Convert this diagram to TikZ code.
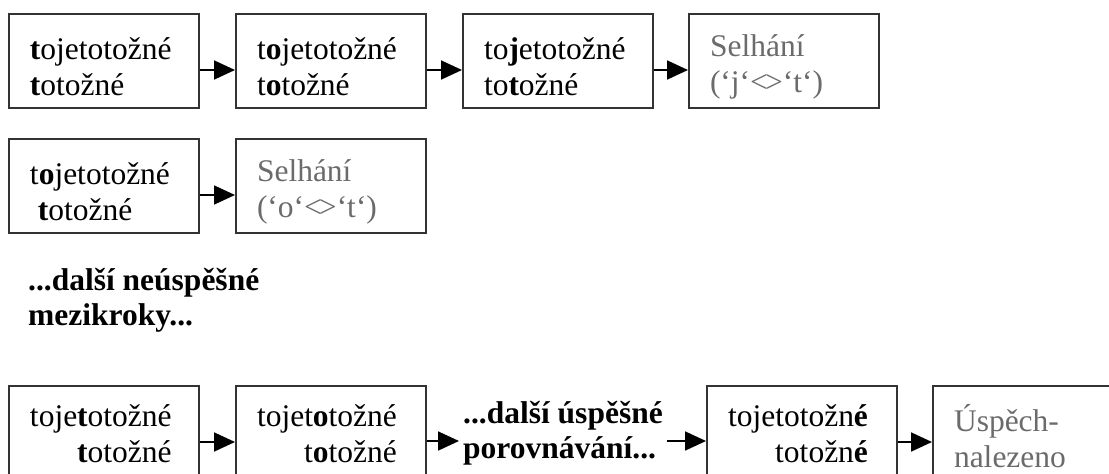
\documentclass[tikz,border=0pt]{standalone}
\usepackage{fontspec}
\setmainfont{Liberation Serif}
\usetikzlibrary{arrows.meta}
\definecolor{boxline}{gray}{0.2}
\definecolor{failgray}{gray}{0.42}
\newcommand{\neqsign}{<\kern-3pt>}
\begin{document}
\begin{tikzpicture}[x=1pt,y=-1pt,
  box/.style={draw=boxline, line width=2pt, minimum width=190pt, minimum height=94pt,
    text width=148pt, inner xsep=21pt, inner ysep=0pt, align=left, anchor=north west,
    font=\fontsize{31.5}{36}\selectfont, execute at begin node={\rule{0pt}{33pt}}},
  fail/.style={box, text=failgray},
  note/.style={font=\fontsize{31.5}{35}\selectfont\bfseries, align=left, anchor=north west,
    inner ysep=0pt, inner xsep=4pt},
  arr/.style={line width=1.8pt, draw=black, -{Triangle[length=21pt,width=19pt]}}]
\useasboundingbox (0,0) rectangle (1109,474);
\clip (0,0) rectangle (1109,474);
% row 1
\node[box] (r1a) at (8,13) {\textbf{t}ojetotožné\\\textbf{t}otožné};
\node[box] (r1b) at (235,13) {t\textbf{o}jetotožné\\t\textbf{o}tožné};
\node[box] (r1c) at (462,13) {to\textbf{j}etotožné\\to\textbf{t}ožné};
\node[fail] (r1d) at (688,13) {Selhání\\(‘j‘\neqsign‘t‘)};
\draw[arr] ([yshift=-9pt]r1a.east) -- ([yshift=-9pt]r1b.west);
\draw[arr] ([yshift=-9pt]r1b.east) -- ([yshift=-9pt]r1c.west);
\draw[arr] ([yshift=-9pt]r1c.east) -- ([yshift=-9pt]r1d.west);
% row 2
\node[box] (r2a) at (8,138) {t\textbf{o}jetotožné\\\hspace*{0.25em}\textbf{t}otožné};
\node[fail] (r2b) at (235,138) {Selhání\\(‘o‘\neqsign‘t‘)};
\draw[arr] ([yshift=-9pt]r2a.east) -- ([yshift=-9pt]r2b.west);
% note
\node[note] (more1) at (24,268) {...další neúspěšné\\mezikroky...};
% row 3
\node[box] (r3a) at (8,385) {\begin{tabular}[t]{@{}r@{}}toje\textbf{t}otožné\\\textbf{t}otožné\end{tabular}};
\node[box] (r3b) at (235,385) {\begin{tabular}[t]{@{}r@{}}tojet\textbf{o}tožné\\t\textbf{o}tožné\end{tabular}};
\node[note] (m) at (459,401) {...další úspěšné\\porovnávání...};
\node[box] (r3d) at (706,385) {\begin{tabular}[t]{@{}r@{}}tojetotožn\textbf{é}\\totožn\textbf{é}\end{tabular}};
\node[fail] (r3e) at (932,385) {Úspěch-\\nalezeno};
\draw[arr] ([yshift=-9pt]r3a.east) -- ([yshift=-9pt]r3b.west);
\coordinate (p3) at ([yshift=-8pt]r3b.east);
\draw[arr] (p3) -- (p3 -| m.west);
\draw[arr] (p3 -| m.east) -- (p3 -| r3d.west);
\draw[arr] ([yshift=-9pt]r3d.east) -- ([yshift=-9pt]r3e.west);
\end{tikzpicture}
\end{document}
